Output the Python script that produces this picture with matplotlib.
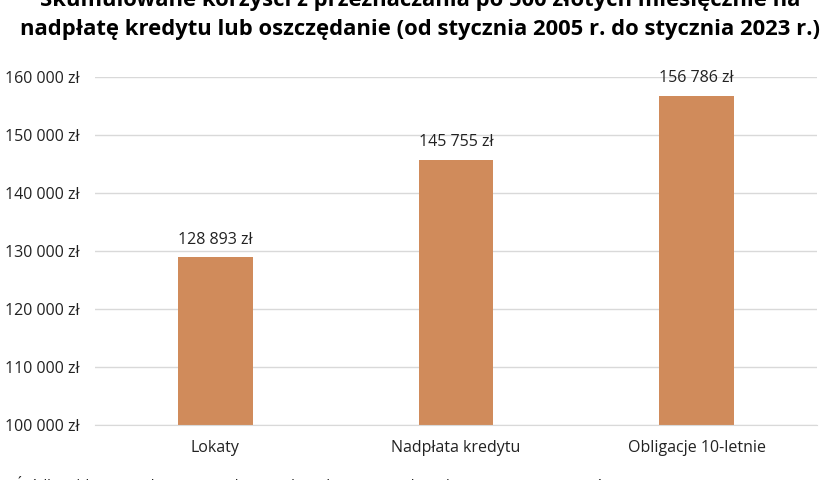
import matplotlib.pyplot as plt
from matplotlib.ticker import FuncFormatter

plt.rcParams['font.family'] = ['Open Sans', 'DejaVu Sans']

categories = ['Lokaty', 'Nadpłata kredytu', 'Obligacje 10-letnie']
values = [128893, 145755, 156786]
bar_color = '#D08B5B'

def zl(v, pos=None):
    return '{:,.0f} zł'.format(v).replace(',', ' ')

fig = plt.figure(figsize=(8.4, 4.8), dpi=100)
ax = fig.add_axes([95 / 840, 1 - 425 / 480, 722 / 840, 348 / 480])

x = range(len(categories))
ax.bar(x, values, width=0.31, color=bar_color, zorder=2)
for xi, v in zip(x, values):
    ax.text(xi, v + 1700, zl(v), ha='center', va='bottom', fontsize=11.5, color='#222222')

ax.set_xlim(-0.5, len(categories) - 0.5)
ax.set_ylim(100000, 160000)
ax.set_yticks(range(100000, 160001, 10000))
ax.yaxis.set_major_formatter(FuncFormatter(zl))
ax.set_xticks(list(x))
ax.set_xticklabels(categories)
ax.tick_params(axis='both', length=0, labelsize=11.5, colors='#222222')
ax.tick_params(axis='x', pad=11)
ax.tick_params(axis='y', pad=11)
ax.grid(axis='y', color='#d9d9d9', linewidth=1, zorder=0)
for s in ['top', 'right', 'left']:
    ax.spines[s].set_visible(False)
ax.spines['bottom'].set_color('#d9d9d9')

fig.text(0.5, 1 - 15 / 480,
         'Skumulowane korzyści z przeznaczania po 500 złotych miesięcznie na\n'
         'nadpłatę kredytu lub oszczędanie (od stycznia 2005 r. do stycznia 2023 r.)',
         ha='center', va='center', fontsize=15.8, fontweight='bold', linespacing=1.45)
fig.text(15 / 840, 1 - 485 / 480,
         'Źródło: obliczenia własne na podstawie danych NBP oraz danych Ministerstwa Finansów',
         ha='left', va='center', fontsize=10.5, color='#222222')

fig.savefig('out.png', dpi=100)
